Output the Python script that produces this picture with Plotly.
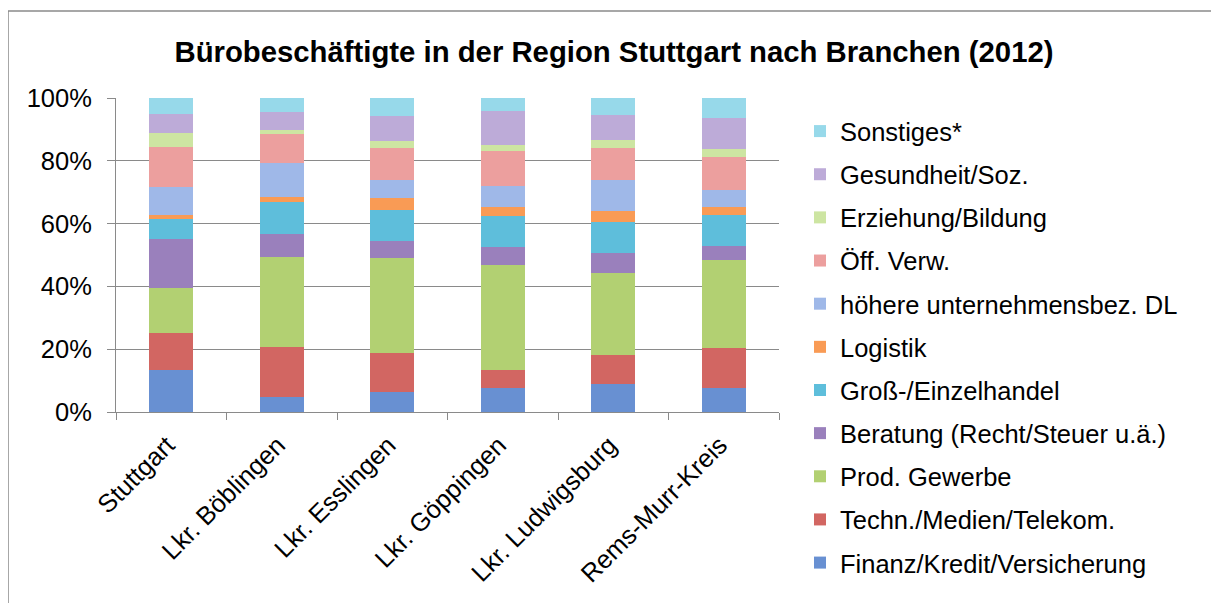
import plotly.graph_objects as go

categories = ["Stuttgart", "Lkr. Böblingen", "Lkr. Esslingen", "Lkr. Göppingen",
              "Lkr. Ludwigsburg", "Rems-Murr-Kreis"]

series_names = [
    "Finanz/Kredit/Versicherung",
    "Techn./Medien/Telekom.",
    "Prod. Gewerbe",
    "Beratung (Recht/Steuer u.ä.)",
    "Groß-/Einzelhandel",
    "Logistik",
    "höhere unternehmensbez. DL",
    "Öff. Verw.",
    "Erziehung/Bildung",
    "Gesundheit/Soz.",
    "Sonstiges*",
]

finanz = [13.3, 4.7, 6.3, 7.5, 8.8, 7.5]
techn = [11.8, 15.9, 12.4, 5.8, 9.3, 12.8]
prod = [14.3, 28.7, 30.3, 33.5, 26.1, 28.1]
beratung = [15.6, 7.3, 5.4, 5.7, 6.4, 4.4]
handel = [6.4, 10.2, 9.9, 9.9, 9.9, 9.9]
logistik = [1.3, 1.6, 3.8, 2.8, 3.5, 2.5]
hoehere = [8.9, 10.9, 5.8, 6.7, 9.9, 5.5]
oeff = [12.8, 9.2, 10.2, 11.2, 10.2, 10.5]
erziehung = [4.4, 1.3, 2.2, 1.9, 2.5, 2.5]
gesundheit = [6.1, 5.7, 8.0, 10.9, 8.0, 9.9]
sonstiges = [5.1, 4.5, 5.7, 4.1, 5.4, 6.4]

series_values = [finanz, techn, prod, beratung, handel, logistik,
                 hoehere, oeff, erziehung, gesundheit, sonstiges]

colors = ["#6890D2", "#D26662", "#B2D072", "#9A80BC", "#5EBEDB", "#F99B55",
          "#9FB8E8", "#EC9F9E", "#CDE5A2", "#BDABD8", "#97D9EA"]

FONT = "Liberation Sans, Arial, sans-serif"
GRID = "#8A8A8A"

fig = go.Figure()
n = len(series_names)
for i, (name, vals, col) in enumerate(zip(series_names, series_values, colors)):
    fig.add_trace(go.Bar(
        x=categories, y=vals, name=name, legendgroup=name,
        legendrank=(n - i) * 10,
        marker=dict(color=col, line=dict(width=0)),
        width=0.4,
    ))

W, H = 1219, 603
OFF = 8  # page body margin
# target screen coordinates of the plot area
SL, SR, ST, SB = 116, 779, 98, 411.7
L = SL - OFF
T = ST - OFF
R = W - (SR - OFF)
B = H - (SB - OFF)
pw = W - L - R
ph = H - T - B

def px_x(sx):
    return (sx - OFF - L) / pw

def px_y(sy):
    return (H - B - (sy - OFF)) / ph

fig.update_layout(
    width=W, height=H,
    margin=dict(l=L, r=R, t=T, b=B, pad=0, autoexpand=False),
    barmode="stack",
    barnorm="percent",
    paper_bgcolor="white",
    plot_bgcolor="white",
    font=dict(family=FONT, size=25.5, color="black"),
    title=dict(
        text="<b>Bürobeschäftigte in der Region Stuttgart nach Branchen (2012)</b>",
        font=dict(family=FONT, size=29.3, color="black"),
        x=(614 - OFF) / W, xanchor="center", xref="container",
        y=1 - (52 - OFF) / H, yanchor="middle", yref="container",
    ),
    legend=dict(
        x=px_x(841 - 41), xanchor="left",
        y=px_y(108), yanchor="top",
        traceorder="grouped",
        tracegroupgap=7,
        maxheight=580,
        font=dict(family=FONT, size=25.5, color="black"),
        bgcolor="rgba(0,0,0,0)",
    ),
    xaxis=dict(
        automargin=False,
        showgrid=False,
        showline=True, linecolor=GRID, linewidth=1,
        ticks="outside", tickson="boundaries", ticklen=7, tickcolor=GRID,
        tickangle=-45,
        ticklabelstandoff=7,
        ticklabelshift=-4,
        tickfont=dict(family=FONT, size=25.5, color="black"),
    ),
    yaxis=dict(
        automargin=False,
        range=[0, 100], dtick=20, ticksuffix="%",
        showgrid=True, gridcolor=GRID, gridwidth=1,
        showline=True, linecolor=GRID, linewidth=1,
        ticks="outside", ticklen=8, tickcolor=GRID,
        ticklabelstandoff=10,
        tickfont=dict(family=FONT, size=25.5, color="black"),
        zeroline=False,
    ),
    shapes=[dict(
        type="rect", xref="paper", yref="paper",
        x0=px_x(8), x1=px_x(W + 20), y0=px_y(H + 20), y1=px_y(11),
        line=dict(color=GRID, width=1.5), fillcolor="rgba(0,0,0,0)",
        layer="below",
    )],
)

fig.write_html("out.html")
